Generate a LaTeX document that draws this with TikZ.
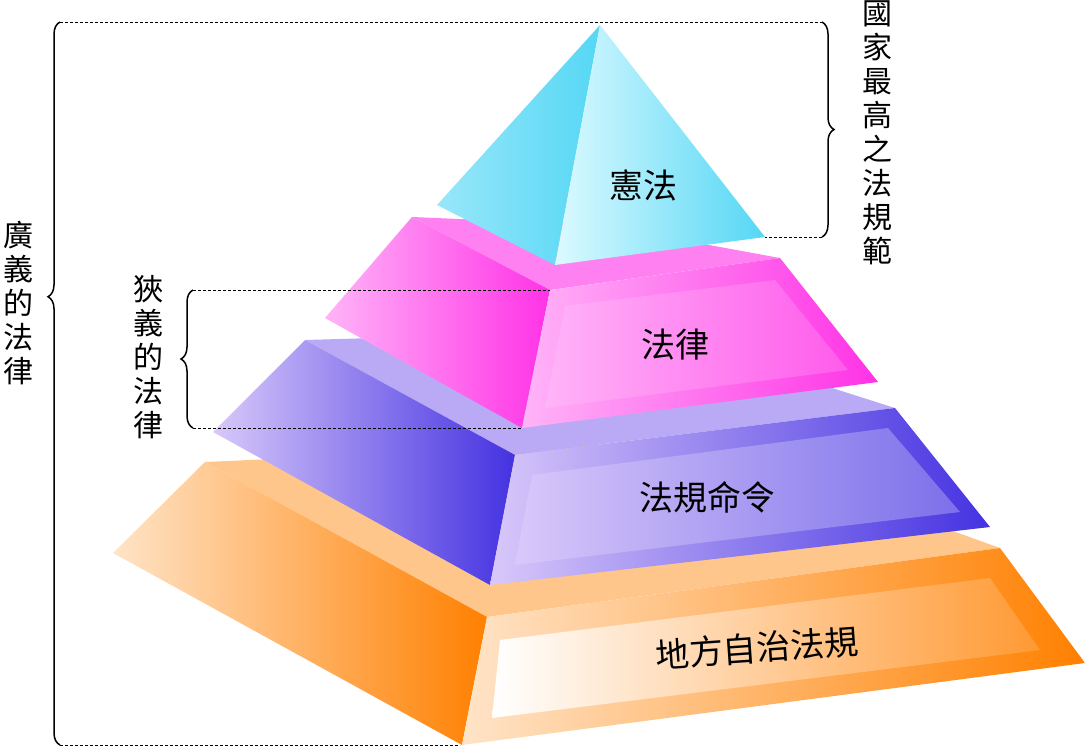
\documentclass[tikz,border=0pt]{standalone}
\usepackage{fontspec}
\newfontfamily\cjk{Noto Sans CJK TC}
\usetikzlibrary{decorations.pathreplacing, positioning}
\definecolor{cyanlt}{RGB}{220, 250, 255}
\definecolor{cyandk}{RGB}{85, 215, 245}
\definecolor{pinklt}{RGB}{255, 180, 248}
\definecolor{pinkdk}{RGB}{255, 50, 230}
\definecolor{purplt}{RGB}{216, 200, 250}
\definecolor{purpdk}{RGB}{68, 50, 225}
\definecolor{orglt}{RGB}{255, 228, 200}
\definecolor{orgdk}{RGB}{255, 128, 0}
\tikzset{
  label/.style={font=\cjk\fontsize{34}{40}\selectfont},
  sidelabel/.style={font=\cjk\fontsize{30}{34}\selectfont, align=center},
  guide/.style={densely dashed, line width=1pt},
  bracket/.style={line width=1.5pt, decorate, decoration={brace, amplitude=12pt}}
}
\begin{document}
\begin{tikzpicture}[x=1pt, y=-1pt]
\useasboundingbox (0,0) rectangle (1085,750);

% Orange layer
\fill[orange!45] (205,462) -- (487,617) -- (1000,548) -- (700,440) -- cycle;
\shade[left color=orglt, right color=orgdk] (205,462) -- (113,553) -- (462,745) -- (487,617) -- cycle;
\shade[left color=orglt, right color=orgdk] (487,617) -- (462,745) -- (1085,663) -- (1000,548) -- cycle;
\shade[left color=white, right color=orgdk!80] (500,640) -- (492,718) -- (1040,650) -- (990,578) -- cycle;

% Purple layer
\fill[purplt!80!purpdk] (305,340) -- (515,455) -- (895,408) -- (650,330) -- cycle;
\shade[left color=purplt, right color=purpdk] (305,340) -- (213,432) -- (490,585) -- (515,455) -- cycle;
\shade[left color=purplt, right color=purpdk] (515,455) -- (490,585) -- (990,527) -- (895,408) -- cycle;
\shade[left color=purplt, right color=purpdk!70] (532,475) -- (515,565) -- (960,512) -- (888,428) -- cycle;

% Pink layer
\fill[pinklt!60!pinkdk] (412,217) -- (550,290) -- (780,258) -- (600,225) -- cycle;
\shade[left color=pinklt, right color=pinkdk] (412,217) -- (325,318) -- (522,428) -- (550,290) -- cycle;
\shade[left color=pinklt, right color=pinkdk] (550,290) -- (522,428) -- (878,382) -- (780,258) -- cycle;
\shade[left color=pinklt, right color=pinkdk!80] (565,306) -- (545,408) -- (848,370) -- (775,280) -- cycle;

% Top
\shade[left color=cyandk!60, right color=cyandk] (600,25) -- (437,205) -- (555,265) -- cycle;
\shade[left color=cyanlt, right color=cyandk] (600,25) -- (555,265) -- (765,237) -- cycle;

% Labels on layers
\node[label] (top) at (643,185) {憲法};
\node[label] (law) at (675,345) {法律};
\node[label] (order) at (707,497) {法規命令};
\node[label, rotate=4] (local) at (757,648) {地方自治法規};

% Side labels
\node[sidelabel] (supreme) at (877,133) {國\\家\\最\\高\\之\\法\\規\\範};
\node[sidelabel] (broad) at (18,303) {廣\\義\\的\\法\\律};
\node[sidelabel] (narrow) at (148,357) {狹\\義\\的\\法\\律};

% Guides and braces
\coordinate (bt) at (60,22);
\coordinate (bb) at (60,745);
\coordinate (st) at (822,22);
\coordinate (sb) at (822,237);
\coordinate (nt) at (193,290);
\coordinate (nb) at (193,428);
\draw[guide] (bt) -- (st);
\draw[guide] (bb) -- (460,745);
\draw[guide] (sb) -- (765,237);
\draw[guide] (nt) -- (550,290);
\draw[guide] (nb) -- (522,428);
\draw[bracket, decoration={aspect=0.62}] (bb) -- (bt);
\draw[bracket] (st) -- (sb);
\draw[bracket] (nb) -- (nt);
\end{tikzpicture}
\end{document}
